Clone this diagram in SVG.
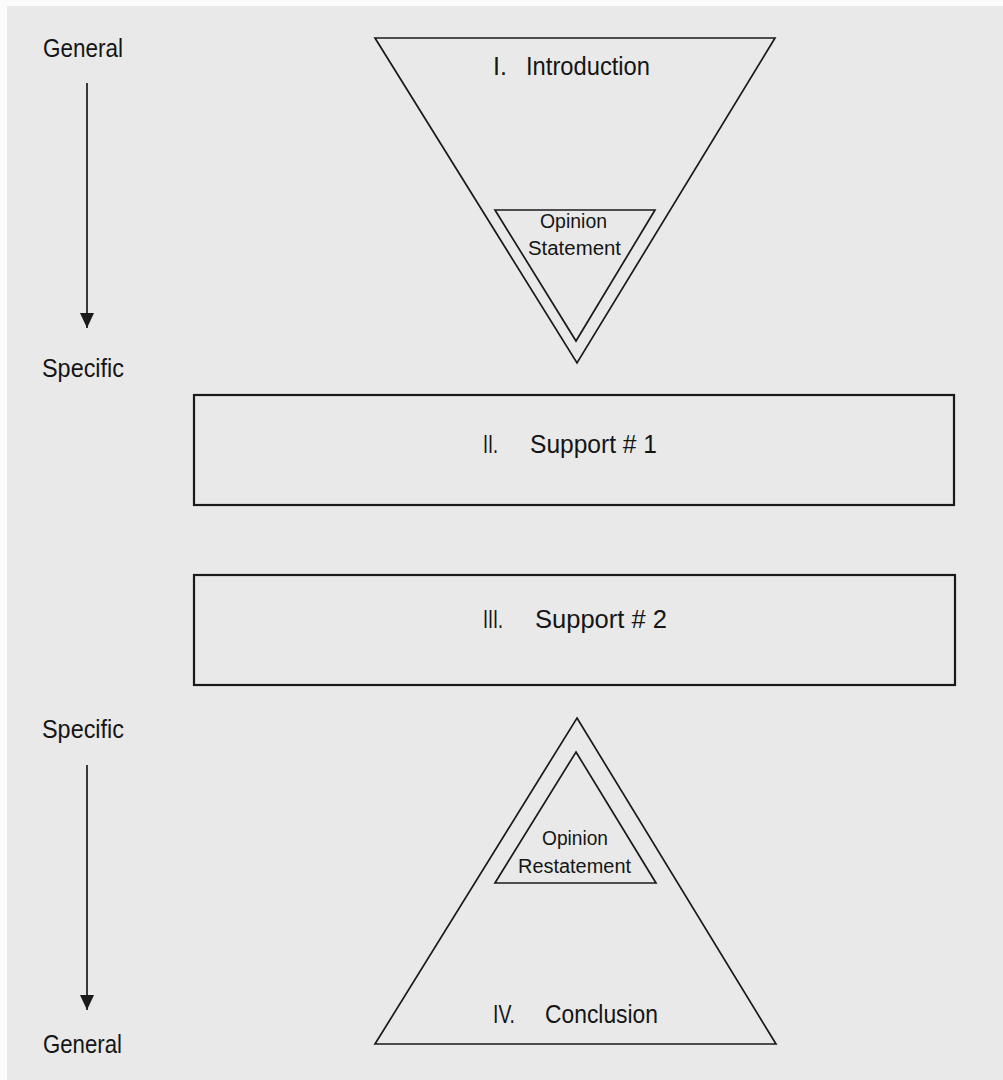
<svg xmlns="http://www.w3.org/2000/svg" width="1003" height="1080" viewBox="0 0 1003 1080">
<style>
.bg{fill:#e9e9e9}
.shape{fill:none;stroke:#1a1a1a;stroke-width:1.7;stroke-linejoin:miter}
.box{fill:none;stroke:#1a1a1a;stroke-width:2.2}
.conn{stroke:#1a1a1a;stroke-width:1.7;fill:none}
text{font-family:"Liberation Sans",Arial,sans-serif;fill:#151515;font-size:25px}
.small{font-size:20px}
</style>
<defs>
<marker id="arrow" markerUnits="userSpaceOnUse" markerWidth="16" markerHeight="16" refX="15" refY="7" orient="auto">
<path d="M0,0 L15,7 L0,14 z" fill="#1a1a1a"/>
</marker>
</defs>
<rect x="0" y="0" width="1003" height="1080" fill="#fbfbfb"/>
<rect class="bg" x="7" y="6" width="996" height="1074"/>

<g id="axis-top">
<text x="43" y="57" textLength="80" lengthAdjust="spacingAndGlyphs">General</text>
<text x="42" y="377" textLength="82" lengthAdjust="spacingAndGlyphs">Specific</text>
</g>
<g id="axis-bottom">
<text x="42" y="738" textLength="82" lengthAdjust="spacingAndGlyphs">Specific</text>
<text x="43" y="1053" textLength="79" lengthAdjust="spacingAndGlyphs">General</text>
</g>

<g id="connectors">
<line class="conn" x1="87" y1="83" x2="87" y2="328" marker-end="url(#arrow)"/>
<line class="conn" x1="87" y1="765" x2="87" y2="1010" marker-end="url(#arrow)"/>
</g>

<g id="introduction">
<polygon class="shape" points="375,38 775,38 577,363"/>
<text x="493" y="75">I.</text>
<text x="526" y="75" textLength="124" lengthAdjust="spacingAndGlyphs">Introduction</text>
</g>
<g id="opinion-statement">
<polygon class="shape" points="495,210 655,210 576,341"/>
<text class="small" x="540" y="228" textLength="67" lengthAdjust="spacingAndGlyphs">Opinion</text>
<text class="small" x="528" y="255" textLength="93" lengthAdjust="spacingAndGlyphs">Statement</text>
</g>

<g id="support-1">
<rect class="box" x="194" y="395" width="760" height="110"/>
<text x="483" y="453" textLength="15" lengthAdjust="spacingAndGlyphs">II.</text>
<text x="530" y="453" textLength="127" lengthAdjust="spacingAndGlyphs">Support # 1</text>
</g>

<g id="support-2">
<rect class="box" x="194" y="575" width="761" height="110"/>
<text x="483" y="628" textLength="20" lengthAdjust="spacingAndGlyphs">III.</text>
<text x="535" y="628" textLength="132" lengthAdjust="spacingAndGlyphs">Support # 2</text>
</g>

<g id="conclusion">
<polygon class="shape" points="577,718 776,1044 375,1044"/>
<text x="493" y="1023" textLength="22" lengthAdjust="spacingAndGlyphs">IV.</text>
<text x="545" y="1023" textLength="113" lengthAdjust="spacingAndGlyphs">Conclusion</text>
</g>
<g id="opinion-restatement">
<polygon class="shape" points="576,752 656,883 495,883"/>
<text class="small" x="542" y="845" textLength="66" lengthAdjust="spacingAndGlyphs">Opinion</text>
<text class="small" x="518" y="873" textLength="113" lengthAdjust="spacingAndGlyphs">Restatement</text>
</g>
</svg>
